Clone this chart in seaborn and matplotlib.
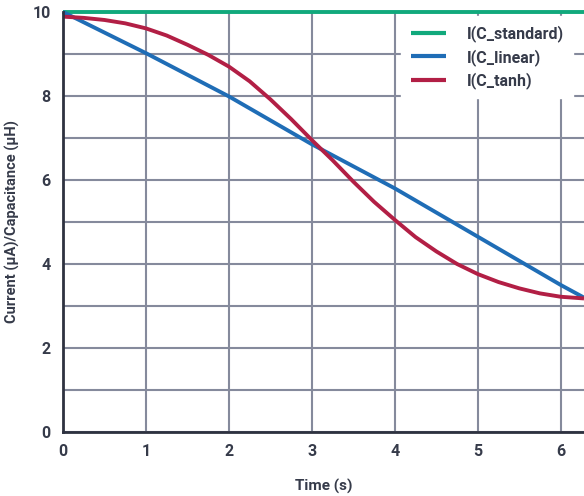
import numpy as np
import pandas as pd
import matplotlib
matplotlib.use("Agg")
import matplotlib.pyplot as plt
import seaborn as sns

# values
t_standard = [0.0, 6.28]
i_standard = [10.0, 10.0]

t_linear = [0.0, 1.0, 2.0, 3.0, 4.0, 5.0, 6.0, 6.28]
i_linear = [10.0, 9.02, 7.99, 6.85, 5.8, 4.65, 3.5, 3.2]

t_tanh = [0.0, 0.25, 0.5, 0.75, 1.0, 1.25, 1.5, 1.75, 2.0, 2.25, 2.5, 2.75, 3.0,
          3.25, 3.5, 3.75, 4.0, 4.25, 4.5, 4.75, 5.0, 5.25, 5.5, 5.75, 6.0, 6.28]
i_tanh = [9.89, 9.86, 9.81, 9.73, 9.61, 9.44, 9.22, 8.98, 8.7, 8.35, 7.92, 7.45, 6.95,
          6.47, 5.96, 5.48, 5.05, 4.64, 4.3, 4.0, 3.76, 3.57, 3.42, 3.3, 3.22, 3.18]

series_names = ["I(C_standard)", "I(C_linear)", "I(C_tanh)"]
colors = ["#11a97c", "#1f6db6", "#b21f45"]

df = pd.concat([
    pd.DataFrame({"Time": t_standard, "Value": i_standard, "Series": series_names[0]}),
    pd.DataFrame({"Time": t_linear, "Value": i_linear, "Series": series_names[1]}),
    pd.DataFrame({"Time": t_tanh, "Value": i_tanh, "Series": series_names[2]}),
])

sns.set_style("white")
plt.rcParams['font.family'] = ['Roboto', 'DejaVu Sans']
text_col = "#363b4a"
grid_col = "#858a9c"

fig = plt.figure(figsize=(5.84, 4.96), dpi=100)
ax = fig.add_axes([63/584, 64/496, 1 - 63/584, 420/496])

sns.lineplot(data=df, x="Time", y="Value", hue="Series", palette=colors,
             linewidth=2.8, ax=ax, zorder=3)
for ln in ax.get_lines():
    ln.set_clip_on(False)
    ln.set_solid_capstyle("butt")

ax.set_xlim(0, 6.28)
ax.set_ylim(0, 10)
ax.set_xticks(range(0, 7))
ax.set_yticks([0, 2, 4, 6, 8, 10])
ax.set_yticks(range(0, 11), minor=True)
ax.grid(True, which="both", color=grid_col, linewidth=1.5, zorder=0)
ax.set_axisbelow(True)

for side in ["top", "right"]:
    ax.spines[side].set_visible(False)
for side in ["left", "bottom"]:
    ax.spines[side].set_color("#2e3240")
    ax.spines[side].set_linewidth(2.0)
    ax.spines[side].set_zorder(4)

ax.tick_params(which="both", length=0)
ax.tick_params(axis="x", pad=9)
ax.tick_params(axis="y", pad=9)
for lab in ax.get_xticklabels() + ax.get_yticklabels():
    lab.set_fontweight("bold")
    lab.set_fontsize(11.5)
    lab.set_color(text_col)

ax.set_xlabel("Time (s)", fontsize=11, fontweight="bold", color=text_col, labelpad=14)
ax.set_ylabel("Current (µA)/Capacitance (µH)", fontsize=10.5, fontweight="bold",
              color=text_col, labelpad=9)

leg = ax.legend(loc="upper right", bbox_to_anchor=(0.995, 1.01), frameon=True,
                fancybox=False, edgecolor="white", facecolor="white", framealpha=1,
                handlelength=2.2, handletextpad=1.3, labelspacing=0.4,
                borderpad=0.6, prop={"weight": "bold", "size": 11.5})
for txt in leg.get_texts():
    txt.set_color(text_col)
for h in leg.get_lines():
    h.set_linewidth(3)
leg.set_zorder(5)

fig.savefig("out.png", dpi=100)
